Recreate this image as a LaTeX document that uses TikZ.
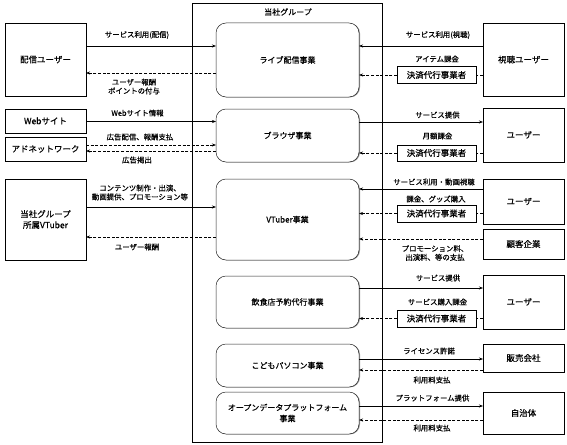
\documentclass[tikz,border=0pt]{standalone}
\usepackage{fontspec}
\setmainfont{Noto Sans CJK JP}[RawFeature={embolden=0.5}]
\usetikzlibrary{arrows.meta,shadows}
\begin{document}
\begin{tikzpicture}[x=1pt,y=-1pt,
 ext/.style={draw, line width=0.6pt, inner sep=0pt, outer sep=0pt, font=\fontsize{8.5}{11}\selectfont, align=center},
 biz/.style={draw=black!85, line width=0.5pt, rounded corners=10pt, fill=white, drop shadow={shadow xshift=1pt,shadow yshift=-0.4pt,fill=black!40,opacity=1}, inner sep=0pt, outer sep=0pt, font=\fontsize{8}{11}\selectfont, align=center},
 pay/.style={draw, line width=0.6pt, inner sep=0pt, outer sep=0pt, font=\fontsize{8.5}{11}\selectfont},
 lbl/.style={font=\fontsize{7.4}{8.8}\selectfont, inner sep=0pt, align=center},
 sol/.style={line width=0.6pt, -{Stealth[length=4pt,width=3pt]}},
 das/.style={line width=0.6pt, dash pattern=on 3pt off 1.6pt, -{Stealth[length=4pt,width=3pt]}},
 dasn/.style={line width=0.6pt, dash pattern=on 3pt off 1.6pt},
]
\useasboundingbox (0,0) rectangle (567,444);
\fill[white] (0,0) rectangle (567,444);

% group frame
\draw[line width=0.6pt] (192,3) rectangle (382,442);
\node[font=\fontsize{8}{10}\selectfont, inner sep=0pt] (title) at (288,12) {当社グループ};

% business boxes
\node[biz, minimum width=143pt, minimum height=74pt] (b1) at (287.5,60) {ライブ配信事業};
\node[biz, minimum width=143pt, minimum height=53pt] (b2) at (287.5,135.5) {ブラウザ事業};
\node[biz, minimum width=143pt, minimum height=81pt] (b3) at (287.5,219.5) {VTuber事業};
\node[biz, minimum width=143pt, minimum height=52pt] (b4) at (287.5,302) {飲食店予約代行事業};
\node[biz, minimum width=143pt, minimum height=43pt] (b5) at (287.5,365.5) {こどもパソコン事業};
\node[biz, minimum width=143pt, minimum height=42pt] (b6) at (287.5,413) {オープンデータプラットフォーム\\事業};

% left boxes
\node[ext, minimum width=81pt, minimum height=73pt] (haishin) at (45.5,59.5) {配信ユーザー};
\node[ext, minimum width=81pt, minimum height=24pt] (web) at (45.5,121) {Webサイト};
\node[ext, minimum width=81pt, minimum height=24pt] (ad) at (45.5,149) {アドネットワーク};
\node[ext, minimum width=81pt, minimum height=81pt] (vt) at (45.5,219.5) {当社グループ\\所属VTuber};

% right boxes
\node[ext, minimum width=81pt, minimum height=73pt] (shicho) at (523.5,59.5) {視聴ユーザー};
\node[ext, minimum width=81pt, minimum height=54pt] (user1) at (523.5,135) {ユーザー};
\node[ext, minimum width=81pt, minimum height=45pt] (user2) at (523.5,201.5) {ユーザー};
\node[ext, minimum width=81pt, minimum height=30pt] (kokyaku) at (523.5,244) {顧客企業};
\node[ext, minimum width=81pt, minimum height=54pt] (user3) at (523.5,302) {ユーザー};
\node[ext, minimum width=81pt, minimum height=28pt] (hanbai) at (523.5,358) {販売会社};
\node[ext, minimum width=81pt, minimum height=42pt] (jichi) at (523.5,413) {自治体};

% payment agents
\node[pay, minimum width=79pt, minimum height=17pt] (p1) at (436.5,75) {決済代行事業者};
\node[pay, minimum width=79pt, minimum height=16pt] (p2) at (436.5,153) {決済代行事業者};
\node[pay, minimum width=79pt, minimum height=17pt] (p3) at (436.5,213.5) {決済代行事業者};
\node[pay, minimum width=79pt, minimum height=17pt] (p4) at (436.5,318.5) {決済代行事業者};

% ---- live
\draw[sol] (haishin.east |- 0,46) -- (b1.west |- 0,46);
\node[lbl] (l1) at (137,35) {サービス利用(配信)};
\draw[das] (b1.west |- 0,73) -- (haishin.east |- 0,73);
\node[lbl] (l2) at (134,86.5) {ユーザー報酬\\ポイントの付与};
\draw[sol] (shicho.west |- 0,46) -- (b1.east |- 0,46);
\node[lbl] (l3) at (438,35) {サービス利用(視聴)};
\node[lbl] (l4) at (437,59) {アイテム課金};
\draw[dasn] (shicho.west |- 0,75) -- (p1.east);
\draw[das] (p1.west) -- (b1.east |- 0,75);

% ---- browser
\draw[sol] (web.east |- 0,121.5) -- (b2.west |- 0,121.5);
\node[lbl] (l5) at (137.5,113) {Webサイト情報};
\draw[das] (ad.east |- 0,145) -- (b2.west |- 0,145);
\node[lbl] (l6) at (140,137) {広告配信、報酬支払};
\draw[das] (b2.west |- 0,151) -- (ad.east |- 0,151);
\node[lbl] (l7) at (137,160) {広告掲出};
\draw[sol] (b2.east |- 0,122) -- (user1.west |- 0,122);
\node[lbl] (l8) at (437.5,115) {サービス提供};
\node[lbl] (l9) at (437.5,136) {月額課金};
\draw[dasn] (user1.west |- 0,153) -- (p2.east);
\draw[das] (p2.west) -- (b2.east |- 0,153);

% ---- vtuber
\draw[sol] (vt.east |- 0,207) -- (b3.west |- 0,207);
\node[lbl] (l10) at (140,192.5) {コンテンツ制作・出演、\\動画提供、プロモーション等};
\draw[das] (b3.west |- 0,237) -- (vt.east |- 0,237);
\node[lbl] (l11) at (137,247) {ユーザー報酬};
\draw[sol] (user2.west |- 0,189) -- (b3.east |- 0,189);
\node[lbl] (l12) at (434,182) {サービス利用・動画視聴};
\node[lbl] (l13) at (436,199) {課金、グッズ購入};
\draw[dasn] (user2.west |- 0,213.5) -- (p3.east);
\draw[das] (p3.west) -- (b3.east |- 0,213.5);
\draw[das] (kokyaku.west |- 0,239) -- (b3.east |- 0,239);
\node[lbl] (l14) at (435,253) {プロモーション料、\\出演料、等の支払};

% ---- restaurant
\draw[sol] (b4.east |- 0,288) -- (user3.west |- 0,288);
\node[lbl] (l15) at (438,278) {サービス提供};
\node[lbl] (l16) at (437.5,302) {サービス購入課金};
\draw[dasn] (user3.west |- 0,318.5) -- (p4.east);
\draw[das] (p4.west) -- (b4.east |- 0,318.5);

% ---- kids pc
\draw[sol] (b5.east |- 0,359) -- (hanbai.west |- 0,359);
\node[lbl] (l17) at (429,351) {ライセンス許諾};
\draw[das] (hanbai.west |- 0,370) -- (b5.east |- 0,370);
\node[lbl] (l18) at (432,380) {利用料支払};

% ---- open data
\draw[sol] (b6.east |- 0,406) -- (jichi.west |- 0,406);
\node[lbl] (l19) at (432.5,398) {プラットフォーム提供};
\draw[das] (jichi.west |- 0,420) -- (b6.east |- 0,420);
\node[lbl] (l20) at (432,428) {利用料支払};
\end{tikzpicture}
\end{document}
